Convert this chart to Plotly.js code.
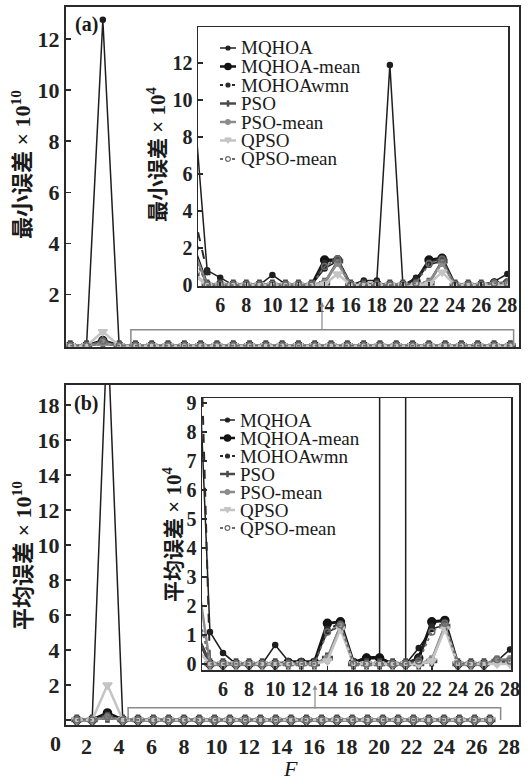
<!DOCTYPE html>
<html><head><meta charset="utf-8">
<script src="https://cdn.plot.ly/plotly-3.0.1.min.js"></script>
<style>html,body{margin:0;padding:0;background:#fff}#chart{width:530px;height:784px}</style>
</head><body><div id="chart"></div>
<script>
// Function index F
const F = [1,2,3,4,5,6,7,8,9,10,11,12,13,14,15,16,17,18,19,20,21,22,23,24,25,26,27,28];
// Series names
const names = ['MQHOA','MQHOA-mean','MOHOAwmn','PSO','PSO-mean','QPSO','QPSO-mean'];
// (a) minimum error, in units of 1e4
const minMQHOA     = [0.5,0.3,12750000,9.7,0.8,0.4,0,0,0,0.55,0.05,0,0,0.9,1.3,0,0.25,0.25,11.9,0,0.4,1.1,1.3,0,0,0,0.2,0.6];
const minMQHOAmean = [0.3,0.2,200000,2.0,0,0,0,0,0,0,0,0,0,1.35,1.35,0,0.05,0.05,0,0,0.2,1.35,1.45,0,0,0,0.1,0.1];
const minMOHOAwmn  = [0.3,0.2,150000,3.8,0.7,0.1,0,0,0,0,0,0,0,1.2,1.35,0,0,0,0,0,0.3,1.25,1.4,0,0,0,0.05,0.1];
const minPSO       = [0.2,0.1,100000,0.6,0,0,0,0,0,0,0,0,0,0.1,1.3,0,0,0,0,0,0,0.1,1.3,0,0,0,0,0.05];
const minPSOmean   = [0.2,0.1,120000,1.8,0,0,0,0,0,0,0,0,0,0.15,1.2,0,0,0,0,0,0,0.15,1.2,0,0,0,0.1,0.1];
const minQPSO      = [0.1,0.1,550000,0.6,0,0,0,0,0,0,0,0,0,0.05,0.6,0,0,0,0,0,0,0.05,0.7,0,0,0,0,0];
const minQPSOmean  = [0.2,0.1,180000,1.5,0,0,0,0,0,0,0,0,0,1.0,1.4,0,0,0,0,0,0.1,1.15,1.4,0,0,0,0.1,0.1];
// (b) mean error, in units of 1e4
const meanMQHOA     = [0.6,0.4,22500000,12.1,1.1,0.38,0,0,0,0.65,0.1,0.1,0.1,1.1,1.3,0.05,0.25,0.25,3000,0,0.55,1.2,1.35,0,0,0,0.1,0.5];
const meanMQHOAmean = [0.4,0.3,400000,1.0,0,0,0,0,0,0,0.05,0.05,0.05,1.4,1.45,0.05,0.2,0.2,0,0,0.2,1.45,1.5,0,0,0,0.1,0.1];
const meanMOHOAwmn  = [0.5,0.3,250000,16,0,0,0,0,0,0,0,0,0,1.2,1.4,0,0,0,0,0,0.2,1.3,1.45,0,0,0,0.05,0.1];
const meanPSO       = [0.2,0.1,150000,1.0,0,0,0,0,0,0,0,0,0,0.2,1.3,0,0,0,0,0,0,0.1,1.3,0,0,0,0.1,0.1];
const meanPSOmean   = [0.2,0.1,150000,3.1,0,0,0,0,0,0,0,0,0,0.2,1.3,0,0,0,0,0,0,0.15,1.3,0,0,0,0.15,0.15];
const meanQPSO      = [0.1,0.1,2000000,0.5,0,0,0,0,0,0,0,0,0,0.1,1.2,0,0,0,0,0,0,0.1,1.2,0,0,0,0,0];
const meanQPSOmean  = [0.2,0.1,200000,2.0,0,0,0,0,0,0,0,0,0,1.1,1.35,0,0,0,0,0,0.1,1.1,1.4,0,0,0,0.15,0.1];
// Tick values
const mainXTicks = [2,4,6,8,10,12,14,16,18,20,22,24,26,28];
const insetXTicks = [6,8,10,12,14,16,18,20,22,24,26,28];
const mainAYTicks = [2,4,6,8,10,12];
const mainBYTicks = [0,2,4,6,8,10,12,14,16,18];
const insetAYTicks = [0,2,4,6,8,10,12];
const insetBYTicks = [0,1,2,3,4,5,6,7,8,9];

const minData = [minMQHOA,minMQHOAmean,minMOHOAwmn,minPSO,minPSOmean,minQPSO,minQPSOmean];
const meanData = [meanMQHOA,meanMQHOAmean,meanMOHOAwmn,meanPSO,meanPSOmean,meanQPSO,meanQPSOmean];

const colors = ['#1e1e1e','#141414','#2a2a2a','#4a4a4a','#8c8c8c','#c4c4c4','#6a6a6a'];
const widths = [1.5,3,2,2.5,2.5,2.5,1.8];
const dashes = ['solid','solid','dash','solid','solid','solid','dot'];
const symbols = ['circle','circle','circle','cross','circle','triangle-down','circle-open'];
const msizes = [5,8,5,8,6,8,6];

const W = 530, H = 784;
const px = v => v / W, py = v => 1 - v / H;

const traces = [];
function addSeries(xs, ys, xa, ya, i) {
  traces.push({type:'scatter', mode:'lines+markers', x: xs, y: ys, xaxis: xa, yaxis: ya,
    name: names[i], showlegend:false, hoverinfo:'skip',
    line:{color:colors[i], width:widths[i], dash:dashes[i]},
    marker:{symbol:symbols[i], size:msizes[i], color:colors[i], line:{color:colors[i], width:1.5}}});
}
for (let i = 0; i < names.length; i++) {
  const a = minData[i], b = meanData[i];
  addSeries(F, a.map(v => v / 1e6), 'x', 'y', i);          // x 10^10
  addSeries(F.slice(3), a.slice(3), 'x2', 'y2', i);         // x 10^4
  addSeries(F, b.map(v => v / 1e6), 'x3', 'y3', i);
  addSeries(F.slice(3), b.slice(3), 'x4', 'y4', i);
}

const tickFont = {family:'Liberation Serif, Times New Roman, serif', size:22, color:'#222', weight:'bold'};
const insetTickFont = {family:'Liberation Serif, Times New Roman, serif', size:20, color:'#222', weight:'bold'};
const axBase = {showgrid:false, zeroline:false, showline:true, mirror:true, linecolor:'#2a2a2a', ticks:'inside', ticklen:5, tickwidth:1.5, tickcolor:'#2a2a2a'};

const mainXDom = [px(66), px(519)];
const layout = {
  width: W, height: H, margin:{l:0,r:0,t:0,b:0}, paper_bgcolor:'#fff', plot_bgcolor:'#fff', showlegend:false,
  xaxis: Object.assign({}, axBase, {domain: mainXDom, range:[0.74, 28.53], anchor:'y', showticklabels:false, ticks:'', linewidth:2}),
  yaxis: Object.assign({}, axBase, {domain:[py(347), py(7)], range:[-0.05, 13.25], anchor:'x', tickvals: mainAYTicks, tickfont: tickFont, linewidth:2}),
  xaxis2: Object.assign({}, axBase, {domain:[px(198), px(508)], range:[4.3, 28.05], anchor:'y2', tickvals: insetXTicks, tickfont: insetTickFont, linewidth:1.5, ticklen:4}),
  yaxis2: Object.assign({}, axBase, {domain:[py(286), py(27)], range:[-0.05, 13.95], anchor:'x2', tickvals: insetAYTicks, tickfont: insetTickFont, linewidth:1.5}),
  xaxis3: Object.assign({}, axBase, {domain: mainXDom, range:[0.29, 29.9], anchor:'y3', showticklabels:false, ticks:'', linewidth:2}),
  yaxis3: Object.assign({}, axBase, {domain:[py(725), py(385)], range:[-0.29, 19.14], anchor:'x3', tickvals: mainBYTicks, ticktext: mainBYTicks.map(v => v === 0 ? '' : String(v)), tickfont: tickFont, linewidth:2}),
  xaxis4: Object.assign({}, axBase, {domain:[px(202), px(511)], range:[4.39, 28.07], anchor:'y4', tickvals: insetXTicks, tickfont: insetTickFont, linewidth:1.5, ticklen:4}),
  yaxis4: Object.assign({}, axBase, {domain:[py(670), py(398)], range:[-0.21, 9.17], anchor:'x4', tickvals: insetBYTicks, tickfont: insetTickFont, linewidth:1.5}),
  // label axis for the shared F scale of the figure (same scale as panel a)
  xaxis5: {overlaying:'x3', anchor:'y3', side:'bottom', range:[0.738, 28.62], tickvals: mainXTicks, tickfont: tickFont, showline:false, showgrid:false, zeroline:false, ticks:'', ticklabelstandoff:6},
  shapes: [], annotations: []
};
traces.push({type:'scatter', x:[], y:[], xaxis:'x5', yaxis:'y3', showlegend:false, hoverinfo:'skip'});

// zoom-region brackets
layout.shapes.push({type:'path', xref:'x', yref:'y', path:'M4.72,0 L4.72,0.62 L28.2,0.62 L28.2,0', line:{color:'#8a8a8a', width:1.5}});
layout.shapes.push({type:'path', xref:'x3', yref:'y3', path:'M4.35,0 L4.35,0.69 L28.7,0.69 L28.7,0', line:{color:'#8a8a8a', width:1.5}});
layout.annotations.push({xref:'paper', yref:'paper', x:px(322), y:py(302), ax:0, ay:29, text:'', showarrow:true, arrowhead:2, arrowsize:0.8, arrowwidth:1.2, arrowcolor:'#8a8a8a'});
layout.annotations.push({xref:'paper', yref:'paper', x:px(315), y:py(685), ax:0, ay:25, text:'', showarrow:true, arrowhead:2, arrowsize:0.8, arrowwidth:1.2, arrowcolor:'#8a8a8a'});

const serif = 'Liberation Serif, Times New Roman, serif';
const cjk = 'Liberation Serif, Noto Sans CJK SC, serif';
function ann(x, y, text, size, opts) {
  layout.annotations.push(Object.assign({xref:'paper', yref:'paper', x:px(x), y:py(y), xanchor:'center', yanchor:'middle', text:text, showarrow:false,
    font:{family:serif, size:size, color:'#1a1a1a'}}, opts || {}));
}
// panel labels
ann(86, 25, '(a)', 20, {font:{family:serif, size:20, color:'#1a1a1a', weight:'bold'}});
ann(86, 403, '(b)', 20, {font:{family:serif, size:20, color:'#1a1a1a', weight:'bold'}});
// axis titles
const yTitleFont = {family:cjk, size:22, color:'#1a1a1a', weight:'bold'};
const yTitleFontS = {family:cjk, size:21, color:'#1a1a1a', weight:'bold'};
ann(21, 165, '最小误差 × 10<sup>10</sup>', 22, {textangle:-90, font:yTitleFont});
ann(22, 556, '平均误差 × 10<sup>10</sup>', 22, {textangle:-90, font:yTitleFont});
ann(156, 155, '最小误差 × 10<sup>4</sup>', 21, {textangle:-90, font:yTitleFontS});
ann(172, 535, '平均误差 × 10<sup>4</sup>', 21, {textangle:-90, font:yTitleFontS});
ann(290, 768, '<i>F</i>', 22, {font:{family:serif, size:22, color:'#1a1a1a'}});
// "0" label on shared x axis (left of plotted range)
ann(55, 743, '0', 22, {font:tickFont});

// custom legends
function legend(rows, x0, x1, tx) {
  for (let i = 0; i < names.length; i++) {
    const y = rows[i], cx = (x0 + x1) / 2;
    layout.shapes.push({type:'line', xref:'paper', yref:'paper', x0:px(x0), x1:px(x1), y0:py(y), y1:py(y),
      line:{color:colors[i], width:Math.min(widths[i], 2.5), dash: dashes[i] === 'solid' ? 'solid' : 'dot'}});
    const r = msizes[i] / 2 * 0.8;
    if (symbols[i] === 'cross') {
      layout.shapes.push({type:'line', xref:'paper', yref:'paper', x0:px(cx), x1:px(cx), y0:py(y - r), y1:py(y + r), line:{color:colors[i], width:2.5}});
    } else if (symbols[i] === 'triangle-down') {
      layout.shapes.push({type:'path', xref:'paper', yref:'paper',
        path:`M${px(cx - r)},${py(y - r * 0.8)} L${px(cx + r)},${py(y - r * 0.8)} L${px(cx)},${py(y + r * 0.9)} Z`,
        fillcolor:colors[i], line:{color:colors[i], width:1}});
    } else {
      const open = symbols[i] === 'circle-open';
      layout.shapes.push({type:'circle', xref:'paper', yref:'paper', x0:px(cx - r), x1:px(cx + r), y0:py(y + r), y1:py(y - r),
        fillcolor: open ? '#fff' : colors[i], line:{color:colors[i], width:1.2}});
    }
    layout.annotations.push({xref:'paper', yref:'paper', x:px(tx), y:py(y), xanchor:'left', yanchor:'middle', text:names[i], showarrow:false,
      font:{family:serif, size:19, color:'#1a1a1a'}});
  }
}
legend([48, 66.5, 85, 103.5, 122, 140.5, 159], 220, 236, 239);
legend([420, 438, 456, 474, 492, 510, 528], 220, 235, 238);

Plotly.newPlot('chart', traces, layout, {staticPlot:true, displayModeBar:false});
</script></body></html>
